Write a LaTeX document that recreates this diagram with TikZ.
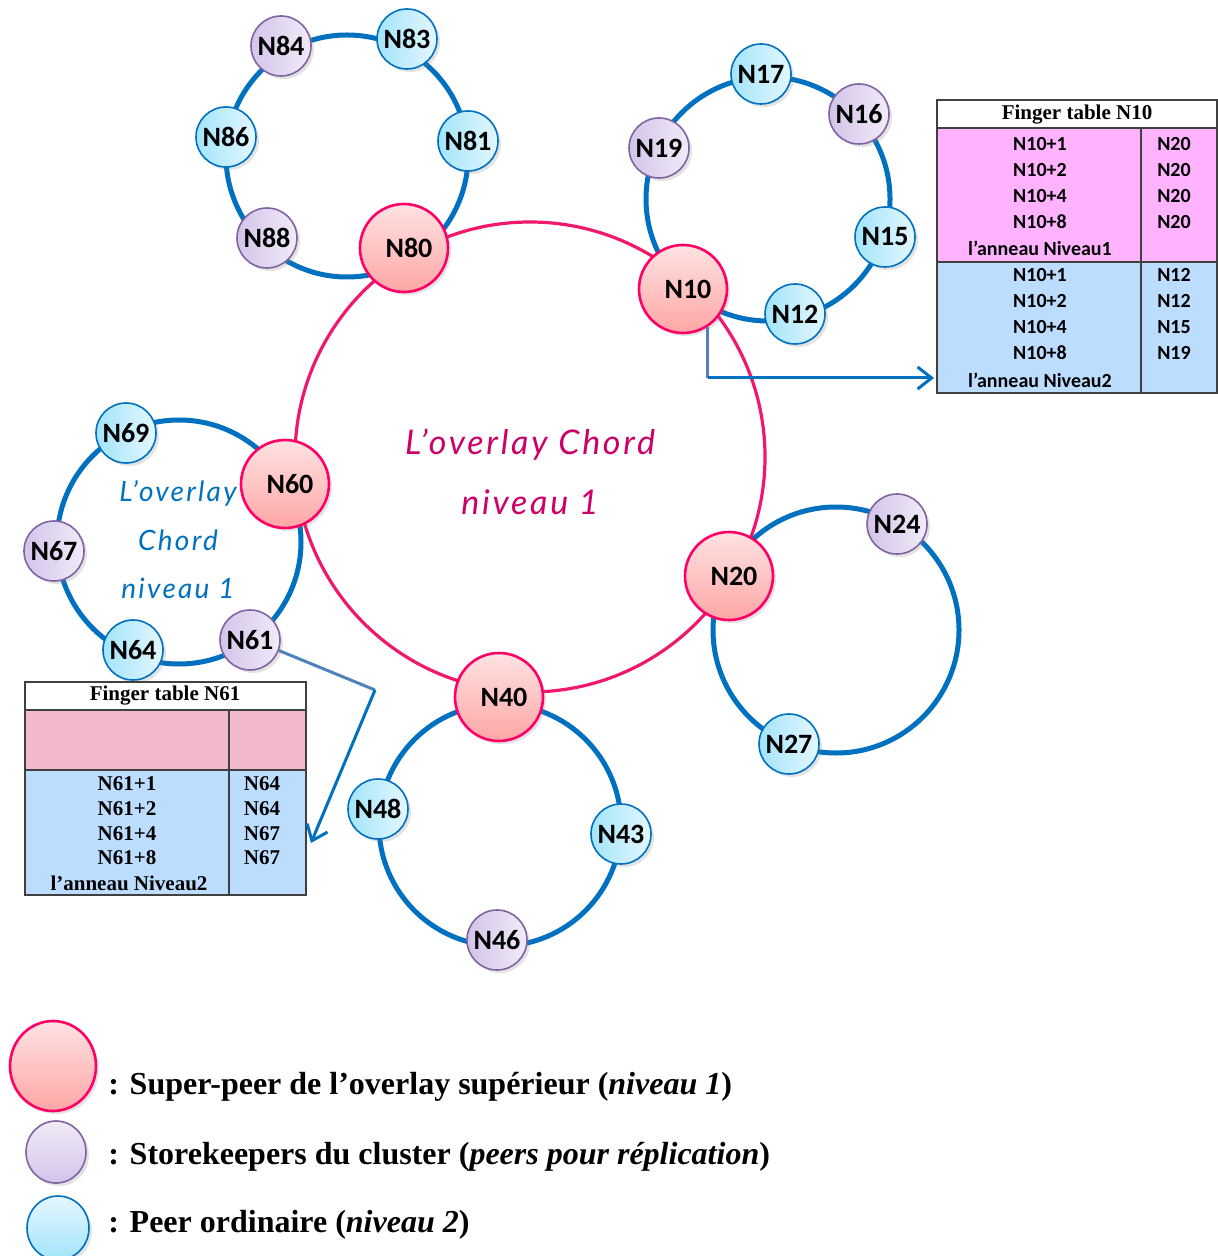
\documentclass[tikz,border=0pt]{standalone}
\usepackage{fontspec}
\setmainfont{Liberation Serif}
\newfontfamily\carl{Carlito}
\newfontfamily\hand{Lato}
\usetikzlibrary{shapes.geometric,shadows,arrows.meta}
\definecolor{ringpink}{HTML}{F0186C}
\definecolor{ringblue}{HTML}{0070C0}
\definecolor{steel}{HTML}{4F81BD}
\definecolor{supborder}{HTML}{FF0066}
\definecolor{suptop}{HTML}{FFE2E2}
\definecolor{supbot}{HTML}{FFA6A6}
\definecolor{stoborder}{HTML}{8064A2}
\definecolor{stoleft}{HTML}{D3C4EA}
\definecolor{storight}{HTML}{F1EBF8}
\definecolor{peerborder}{HTML}{0070C0}
\definecolor{peerleft}{HTML}{A3E4FA}
\definecolor{peerright}{HTML}{E4F7FF}
\definecolor{tabpink}{HTML}{FFB3FF}
\definecolor{tabrose}{HTML}{F2B8CC}
\definecolor{tabblue}{HTML}{BDDDFF}
\definecolor{tabline}{HTML}{404040}
\definecolor{textmag}{HTML}{CC0066}
% super-peer labels sit a little right of the disc centre
\newcommand{\splabel}[1]{\hspace{5pt}#1}
\tikzset{
  lbl/.style={font=\carl\bfseries\fontsize{14}{16}\selectfont},
  nd/.style={circle, inner sep=0pt, lbl,
    drop shadow={opacity=0.22, shadow xshift=1.5pt, shadow yshift=-1.5pt}},
  superpeer/.style={nd, minimum size=44pt, draw=supborder, line width=1.3pt,
    top color=suptop, bottom color=supbot},
  keeper/.style={nd, minimum size=30pt, draw=stoborder, line width=0.8pt,
    left color=stoleft, right color=storight},
  peer/.style={nd, minimum size=30pt, draw=peerborder, line width=0.8pt,
    left color=peerleft, right color=peerright},
  ringone/.style={draw=ringpink, line width=1.6pt},
  ringtwo/.style={draw=ringblue, line width=2.5pt},
  tabframe/.style={draw=tabline, line width=0.75pt},
  calcell/.style={font=\carl\bfseries\fontsize{10}{12}\selectfont, inner sep=0pt},
  romcell/.style={font=\bfseries\fontsize{10.5}{12}\selectfont, inner sep=0pt},
  tabhead/.style={font=\bfseries\fontsize{10.5}{12}\selectfont, inner sep=0pt},
  linkstart/.style={draw=steel, line width=1.5pt},
  linkend/.style={draw=ringblue, line width=1.5pt,
    -{Straight Barb[length=7pt, width=11pt, line width=1.5pt]}},
  bigtitle/.style={text=textmag, inner sep=0pt,
    font=\hand\itshape\addfontfeatures{LetterSpace=8}\fontsize{17}{20}\selectfont},
  smalltitle/.style={text=ringblue, inner sep=0pt,
    font=\hand\itshape\addfontfeatures{LetterSpace=8}\fontsize{14}{17}\selectfont},
  legtext/.style={anchor=west, inner sep=0pt, font=\bfseries\fontsize{16}{19}\selectfont},
  legshape/.style={ellipse, inner sep=0pt,
    drop shadow={opacity=0.22, shadow xshift=1.5pt, shadow yshift=-1.5pt}},
}
\begin{document}
\begin{tikzpicture}[x=0.5pt,y=-0.5pt]
\useasboundingbox (0,0) rectangle (1218,1256);

% upper overlay ring and the five cluster rings
\draw[ringone] (530,457) circle[radius=235];
\draw[ringtwo] (347,156) circle[radius=121];
\draw[ringtwo] (768,199) circle[radius=122];
\draw[ringtwo] (179,542) circle[radius=122];
\draw[ringtwo] (836,630) circle[radius=123];
\draw[ringtwo] (500,825) circle[radius=121];

% overlay labels
\node[bigtitle] (t1a) at (530,445) {L’overlay Chord};
\node[bigtitle] (t1b) at (530,502) {niveau 1};
\node[smalltitle] (t2a) at (178,493) {L’overlay};
\node[smalltitle] (t2b) at (178,540) {Chord};
\node[smalltitle] (t2c) at (178,588) {niveau 1};

% super-peers
\node[superpeer] (N80) at (404,248) {\splabel{N80}};
\node[superpeer] (N10) at (683,289) {\splabel{N10}};
\node[superpeer] (N20) at (729,576) {\splabel{N20}};
\node[superpeer] (N40) at (499,697) {\splabel{N40}};
\node[superpeer] (N60) at (285,484) {\splabel{N60}};

% cluster of N80
\node[keeper] (N84) at (281,46) {N84};
\node[peer]   (N83) at (407,39) {N83};
\node[peer]   (N81) at (468,141) {N81};
\node[keeper] (N88) at (267,238) {N88};
\node[peer]   (N86) at (226,137) {N86};

% cluster of N10
\node[peer]   (N17) at (761,74) {N17};
\node[keeper] (N16) at (859,114) {N16};
\node[keeper] (N19) at (659,148) {N19};
\node[peer]   (N15) at (885,237) {N15};
\node[peer]   (N12) at (795,314) {N12};

% cluster of N60
\node[peer]   (N69) at (126,433) {N69};
\node[keeper] (N67) at (54,551) {N67};
\node[peer]   (N64) at (133,650) {N64};
\node[keeper] (N61) at (250,640) {N61};

% cluster of N20
\node[keeper] (N24) at (897,524) {N24};
\node[peer]   (N27) at (789,744) {N27};

% cluster of N40
\node[peer]   (N48) at (378,809) {N48};
\node[peer]   (N43) at (621,834) {N43};
\node[keeper] (N46) at (497,940) {N46};

% finger table of N10
\fill[white]   (937,100) rectangle (1217,128);
\fill[tabpink] (937,128) rectangle (1217,262);
\fill[tabblue] (937,262) rectangle (1217,393);
\draw[tabframe] (937,100) rectangle (1217,393);
\draw[tabframe] (937,128) -- (1217,128);
\draw[tabframe] (937,262) -- (1217,262);
\draw[tabframe] (1141,128) -- (1141,393);
\node[tabhead] (h10) at (1077,115) {Finger table N10};
\node[calcell] (a1) at (1040,144) {N10+1};
\node[calcell] (a2) at (1040,170) {N10+2};
\node[calcell] (a3) at (1040,196) {N10+4};
\node[calcell] (a4) at (1040,222) {N10+8};
\node[calcell] (a5) at (1040,248) {l’anneau Niveau1};
\node[calcell] (b1) at (1174,144) {N20};
\node[calcell] (b2) at (1174,170) {N20};
\node[calcell] (b3) at (1174,196) {N20};
\node[calcell] (b4) at (1174,222) {N20};
\node[calcell] (c1) at (1040,275) {N10+1};
\node[calcell] (c2) at (1040,301) {N10+2};
\node[calcell] (c3) at (1040,327) {N10+4};
\node[calcell] (c4) at (1040,353) {N10+8};
\node[calcell] (c5) at (1040,380) {l’anneau Niveau2};
\node[calcell] (d1) at (1174,275) {N12};
\node[calcell] (d2) at (1174,301) {N12};
\node[calcell] (d3) at (1174,327) {N15};
\node[calcell] (d4) at (1174,353) {N19};
\coordinate (tab10in) at (934,378);

% finger table of N61
\fill[white]   (25,682) rectangle (306,710);
\fill[tabrose] (25,710) rectangle (306,770);
\fill[tabblue] (25,770) rectangle (306,895);
\draw[tabframe] (25,682) rectangle (306,895);
\draw[tabframe] (25,710) -- (306,710);
\draw[tabframe] (25,770) -- (306,770);
\draw[tabframe] (229,710) -- (229,895);
\node[tabhead] (h61) at (165,696) {Finger table N61};
\node[romcell] (e1) at (127,784) {N61+1};
\node[romcell] (e2) at (127,809) {N61+2};
\node[romcell] (e3) at (127,834) {N61+4};
\node[romcell] (e4) at (127,858) {N61+8};
\node[romcell] (e5) at (129,883) {l’anneau Niveau2};
\node[romcell] (f1) at (262,784) {N64};
\node[romcell] (f2) at (262,809) {N64};
\node[romcell] (f3) at (262,834) {N67};
\node[romcell] (f4) at (262,858) {N67};
\coordinate (bend61) at (375,690);
\coordinate (tab61in) at (311,843);

% links from the super-peer / peer to their finger tables
\draw[linkstart] (N10.-57) -- (N10.-57 |- tab10in);
\draw[linkend] (N10.-57 |- tab10in) -- (tab10in);
\draw[linkstart] (N61.-20) -- (bend61);
\draw[linkend] (bend61) -- (tab61in);

% legend
\node[legshape, minimum width=43pt, minimum height=45pt, draw=supborder, line width=1.3pt,
      top color=suptop, bottom color=supbot] (leg1) at (53,1066) {};
\node[legshape, minimum width=30pt, minimum height=31pt, draw=stoborder, line width=0.8pt,
      top color=storight, bottom color=stoleft] (leg2) at (56,1152) {};
\node[legshape, minimum width=31pt, minimum height=32pt, draw=peerborder, line width=0.8pt,
      top color=peerright, bottom color=peerleft] (leg3) at (58,1228) {};
\node[legtext] (lt1) at (108,1087) {: Super-peer de l’overlay supérieur (\textit{niveau 1})};
\node[legtext] (lt2) at (108,1157) {: Storekeepers du cluster (\textit{peers pour réplication})};
\node[legtext] (lt3) at (108,1225) {: Peer ordinaire (\textit{niveau 2})};
\end{tikzpicture}
\end{document}
